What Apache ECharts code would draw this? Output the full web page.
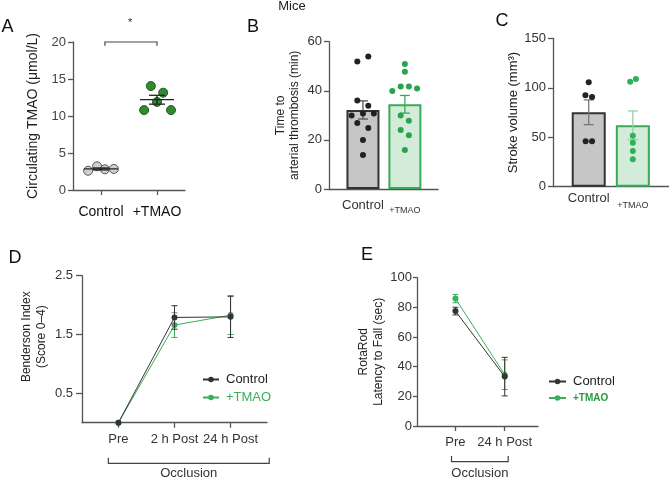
<!DOCTYPE html>
<html><head><meta charset="utf-8">
<script src="https://cdn.jsdelivr.net/npm/echarts@6/dist/echarts.min.js"></script>
<style>html,body{margin:0;padding:0;background:#fff}#c{width:669px;height:479px}</style>
</head><body><div id="c"></div>
<script>
// ---------- DATA ----------
// Panel A: circulating TMAO (µmol/L)
const aGroups = ['Control', '+TMAO'];
const aControl = [2.6, 3.2, 2.8, 2.85];
const aTMAO = [14.05, 13.15, 11.9, 10.8, 10.8];
const aMean = [2.85, 12.2];
const aSEM = [0.13, 0.6];
// Panel B: time to arterial thrombosis (min)
const bGroups = ['Control', '+TMAO'];
const bMean = [32.2, 34.5];
const bSEM = [3.7, 3.6];
const bControl = [51.9, 54.0, 36.0, 33.9, 29.9, 30.8, 30.8, 26.9, 24.8, 20.0, 13.8];
const bTMAO = [50.9, 47.8, 39.9, 41.8, 41.8, 40.9, 29.9, 27.8, 24.0, 21.9, 15.9];
// Panel C: stroke volume (mm3)
const cGroups = ['Control', '+TMAO'];
const cMean = [75.2, 62.1];
const cSEM = [12.5, 14.5];
const cControl = [105.6, 92.4, 90.7, 45.9, 45.9];
const cTMAO = [106.2, 108.9, 51.6, 44.5, 36.1, 27.7];
// Panel D: Benderson index
const dTimes = ['Pre', '2 h Post', '24 h Post'];
const dControl = [0, 1.79, 1.80];
const dControlSEM = [0, 0.2, 0.35];
const dTMAO = [0, 1.66, 1.83];
const dTMAOSEM = [0, 0.21, 0.33];
const dTicks = [0.5, 1.5, 2.5];
// Panel E: RotaRod latency (sec)
const eTimes = ['Pre', '24 h Post'];
const eControl = [77.5, 33.3];
const eControlSEM = [2.6, 13];
const eTMAO = [85.9, 34.6];
const eTMAOSEM = [2.8, 10];

// ---------- LAYOUT (jitter of dots, in category units) ----------
const aCtrlJit = [-0.23, -0.07, 0.07, 0.23];
const aTmaoJit = [-0.11, 0.11, 0, -0.23, 0.25];
const bCtrlJit = [-0.135, 0.127, -0.135, 0.127, -0.27, 0, 0.26, -0.135, 0.127, 0, 0];
const bTmaoJit = [0, 0, -0.3, -0.1, 0.095, 0.29, -0.1, 0.095, -0.1, 0.095, 0];
const cCtrlJit = [0, -0.075, 0.075, -0.07, 0.075];
const cTmaoJit = [-0.06, 0.07, 0, 0, 0, 0];

const FONT = '"Liberation Sans", Arial, sans-serif';
const GREEN = '#3aae5a';
const DARK = '#333';
const AX = '#555';

const jit = (vals, c, j) => vals.map((v, i) => [c + j[i], v]);

function errRender(colors, cap, lw, meanW) {
  return function (params, api) {
    const x = api.value(0), y = api.value(1), e = api.value(2);
    const col = colors[params.dataIndex % colors.length];
    const st = { stroke: col, lineWidth: lw };
    const ch = [];
    if (e > 0) {
      const p1 = api.coord([x, y + e]), p2 = api.coord([x, y - e]);
      const hw = cap / 2;
      ch.push({ type: 'line', shape: { x1: p1[0], y1: p1[1], x2: p2[0], y2: p2[1] }, style: st });
      ch.push({ type: 'line', shape: { x1: p1[0] - hw, y1: p1[1], x2: p1[0] + hw, y2: p1[1] }, style: st });
      ch.push({ type: 'line', shape: { x1: p2[0] - hw, y1: p2[1], x2: p2[0] + hw, y2: p2[1] }, style: st });
    }
    if (meanW) {
      const m = api.coord([x, y]);
      ch.push({ type: 'line', shape: { x1: m[0] - meanW / 2, y1: m[1], x2: m[0] + meanW / 2, y2: m[1] }, style: st });
    }
    return { type: 'group', children: ch };
  };
}

function yAx(g, min, max, interval, name, gap, extra) {
  return Object.assign({
    type: 'value', gridIndex: g, min: min, max: max, interval: interval,
    splitLine: { show: false },
    axisLine: { show: true, onZero: false, lineStyle: { color: AX, width: 1.3 } },
    axisTick: { show: true, length: 5, lineStyle: { color: AX, width: 1.3 } },
    axisLabel: { color: DARK, fontSize: 13, fontFamily: FONT, margin: 7 },
    name: name, nameLocation: 'middle', nameRotate: 90, nameGap: gap,
    nameTextStyle: { color: '#222', fontSize: 12, fontFamily: FONT, lineHeight: 14 }
  }, extra || {});
}

function xAx(g, min, max, vals, fmt, extra) {
  return Object.assign({
    type: 'value', gridIndex: g, min: min, max: max,
    splitLine: { show: false },
    axisLine: { show: true, onZero: false, lineStyle: { color: AX, width: 1.3 } },
    axisTick: { show: true, length: 5, customValues: vals, lineStyle: { color: AX, width: 1.3 } },
    axisLabel: { customValues: vals, formatter: fmt, color: DARK, fontSize: 13, fontFamily: FONT, margin: 10 }
  }, extra || {});
}

const chart = echarts.init(document.getElementById('c'), null, { renderer: 'canvas' });

const option = {
  animation: false,
  textStyle: { fontFamily: FONT },
  grid: [
    { left: 73, top: 42, width: 112, height: 148 },
    { left: 329, top: 41.7, width: 109, height: 147.3 },
    { left: 553, top: 38.3, width: 116, height: 148.4 },
    { left: 82, top: 275.7, width: 185, height: 147 },
    { left: 417, top: 277.7, width: 121, height: 148.3 }
  ],
  xAxis: [
    xAx(0, -0.5, 1.5, [0, 1], v => aGroups[Math.round(v)], {
      axisLabel: { customValues: [0, 1], formatter: v => aGroups[Math.round(v)], color: '#111', fontSize: 14, fontFamily: FONT, margin: 15 }
    }),
    xAx(1, -0.81, 1.79, [0, 1], null, {
      axisTick: { show: false },
      axisLabel: {
        customValues: [0, 1], formatter: v => Math.round(v) === 0 ? '{c|' + bGroups[0] + '}' : '{t|' + bGroups[1] + '}',
        margin: 10,
        rich: { c: { fontSize: 13, color: DARK, fontFamily: FONT }, t: { fontSize: 9, color: DARK, fontFamily: FONT, padding: [7, 0, 0, 0] } }
      }
    }),
    xAx(2, -0.81, 1.82, [0, 1], null, {
      axisTick: { show: false },
      axisLabel: {
        customValues: [0, 1], formatter: v => Math.round(v) === 0 ? '{c|' + cGroups[0] + '}' : '{t|' + cGroups[1] + '}',
        margin: 5,
        rich: { c: { fontSize: 13, color: DARK, fontFamily: FONT }, t: { fontSize: 9, color: DARK, fontFamily: FONT, padding: [9, 0, 0, 0] } }
      }
    }),
    xAx(3, -0.65, 2.65, [0, 1, 2], v => dTimes[Math.round(v)], {}),
    xAx(4, -0.78, 1.675, [0, 1], v => eTimes[Math.round(v)], {})
  ],
  yAxis: [
    yAx(0, 0, 20, 5, 'Circulating TMAO (\u03bcmol/L)', 33, {
      nameTextStyle: { color: '#222', fontSize: 14, fontFamily: FONT },
      axisLabel: { color: '#444', fontSize: 13, fontFamily: FONT, margin: 7 }
    }),
    yAx(1, 0, 60, 20, 'Time to\narterial thrombosis (min)', 27),
    yAx(2, 0, 150, 50, 'Stroke volume (mm\u00b3)', 29, {
      nameTextStyle: { color: '#222', fontSize: 13, fontFamily: FONT }
    }),
    yAx(3, 0, 2.5, null, 'Benderson Index\n(Score 0\u20134)', 33, {
      axisTick: { show: true, length: 6, customValues: dTicks, lineStyle: { color: AX, width: 1.3 } },
      axisLabel: { customValues: dTicks, color: DARK, fontSize: 13, fontFamily: FONT, margin: 9 },
      nameTextStyle: { color: '#222', fontSize: 12, fontFamily: FONT, lineHeight: 15, padding: [0, 0, 0, 25] }
    }),
    yAx(4, 0, 100, 20, 'RotaRod\nLatency to Fall (sec)', 25, {
      axisTick: { show: true, length: 4, lineStyle: { color: AX, width: 1.3 } },
      axisLabel: { color: DARK, fontSize: 13, fontFamily: FONT, margin: 5 },
      nameTextStyle: { color: '#222', fontSize: 12, fontFamily: FONT, lineHeight: 15 }
    })
  ],
  legend: [
    {
      left: 197, top: 368, orient: 'vertical', itemWidth: 16, itemHeight: 7, itemGap: 5,
      textStyle: { fontSize: 13, fontFamily: FONT, color: '#222', padding: [0, 0, 0, 2] },
      data: [{ name: 'Control' }, { name: '+TMAO', textStyle: { color: GREEN } }]
    },
    {
      left: 543, top: 370, orient: 'vertical', itemWidth: 17, itemHeight: 7, itemGap: 5,
      textStyle: { fontSize: 13, fontFamily: FONT, color: '#222', padding: [0, 0, 0, 2] },
      data: [{ name: 'Control' }, { name: '+TMAO', textStyle: { color: '#2a9a44', fontWeight: 'bold', fontSize: 10 } }]
    }
  ],
  series: [
    // ---- A ----
    { name: 'A Control', type: 'scatter', xAxisIndex: 0, yAxisIndex: 0, data: jit(aControl, 0, aCtrlJit),
      symbolSize: 9, itemStyle: { color: '#cfcfcf', borderColor: '#555', borderWidth: 1, opacity: 1 }, z: 3 },
    { name: 'A TMAO', type: 'scatter', xAxisIndex: 0, yAxisIndex: 0, data: jit(aTMAO, 1, aTmaoJit),
      symbolSize: 9, itemStyle: { color: '#2e8b2e', borderColor: '#1d5c1d', borderWidth: 1, opacity: 1 }, z: 3 },
    { name: 'A mean', type: 'custom', xAxisIndex: 0, yAxisIndex: 0,
      data: aMean.map((m, i) => [i, m, aSEM[i]]), renderItem: errRender(['#222', '#222'], 16, 1.3, 34), z: 4 },
    // ---- B ----
    { name: 'B bars', type: 'bar', xAxisIndex: 1, yAxisIndex: 1, barWidth: 33,
      data: [
        { value: [0, bMean[0]], itemStyle: { color: '#c6c6c6', borderColor: '#333', borderWidth: 2 } },
        { value: [1, bMean[1]], itemStyle: { color: '#d3ecd9', borderColor: '#38aa58', borderWidth: 2 } }
      ], z: 1 },
    { name: 'B err', type: 'custom', xAxisIndex: 1, yAxisIndex: 1,
      data: bMean.map((m, i) => [i, m, bSEM[i]]), renderItem: errRender(['#555', '#38aa58'], 10, 1.3), z: 2 },
    { name: 'B Control', type: 'scatter', xAxisIndex: 1, yAxisIndex: 1, data: jit(bControl, 0, bCtrlJit),
      symbolSize: 6, itemStyle: { color: '#222', opacity: 1 }, z: 3 },
    { name: 'B TMAO', type: 'scatter', xAxisIndex: 1, yAxisIndex: 1, data: jit(bTMAO, 1, bTmaoJit),
      symbolSize: 6, itemStyle: { color: '#2aa34f', opacity: 1 }, z: 3 },
    // ---- C ----
    { name: 'C bars', type: 'bar', xAxisIndex: 2, yAxisIndex: 2, barWidth: 34,
      data: [
        { value: [0, cMean[0]], itemStyle: { color: '#c6c6c6', borderColor: '#333', borderWidth: 2 } },
        { value: [1, cMean[1]], itemStyle: { color: '#d3ecd9', borderColor: '#38aa58', borderWidth: 2 } }
      ], z: 1 },
    { name: 'C err', type: 'custom', xAxisIndex: 2, yAxisIndex: 2,
      data: cMean.map((m, i) => [i, m, cSEM[i]]), renderItem: errRender(['#777', '#8fd4a2'], 10, 1.3), z: 2 },
    { name: 'C Control', type: 'scatter', xAxisIndex: 2, yAxisIndex: 2, data: jit(cControl, 0, cCtrlJit),
      symbolSize: 6, itemStyle: { color: '#222', opacity: 1 }, z: 3 },
    { name: 'C TMAO', type: 'scatter', xAxisIndex: 2, yAxisIndex: 2, data: jit(cTMAO, 1, cTmaoJit),
      symbolSize: 6, itemStyle: { color: '#2db25a', opacity: 1 }, z: 3 },
    // ---- D ----
    { name: 'D err TMAO', type: 'custom', xAxisIndex: 3, yAxisIndex: 3,
      data: dTMAO.map((m, i) => [i, m, dTMAOSEM[i]]), renderItem: errRender([GREEN], 6, 1), z: 2 },
    { name: '+TMAO', type: 'line', xAxisIndex: 3, yAxisIndex: 3, data: dTMAO.map((v, i) => [i, v]),
      color: GREEN, symbol: 'circle', symbolSize: 6, lineStyle: { width: 1, color: GREEN }, itemStyle: { color: GREEN }, z: 3 },
    { name: 'D err Control', type: 'custom', xAxisIndex: 3, yAxisIndex: 3,
      data: dControl.map((m, i) => [i, m, dControlSEM[i]]), renderItem: errRender([DARK], 6, 1), z: 4 },
    { name: 'Control', type: 'line', xAxisIndex: 3, yAxisIndex: 3, data: dControl.map((v, i) => [i, v]),
      color: DARK, symbol: 'circle', symbolSize: 6, lineStyle: { width: 1, color: DARK }, itemStyle: { color: DARK }, z: 5 },
    // ---- E ----
    { name: 'E err TMAO', type: 'custom', xAxisIndex: 4, yAxisIndex: 4,
      data: eTMAO.map((m, i) => [i, m, eTMAOSEM[i]]), renderItem: errRender([GREEN], 6, 1), z: 2 },
    { name: '+TMAO', type: 'line', xAxisIndex: 4, yAxisIndex: 4, data: eTMAO.map((v, i) => [i, v]),
      color: GREEN, symbol: 'circle', symbolSize: 6, lineStyle: { width: 1, color: GREEN }, itemStyle: { color: GREEN }, z: 3 },
    { name: 'E err Control', type: 'custom', xAxisIndex: 4, yAxisIndex: 4,
      data: eControl.map((m, i) => [i, m, eControlSEM[i]]), renderItem: errRender([DARK], 6, 1), z: 4 },
    { name: 'Control', type: 'line', xAxisIndex: 4, yAxisIndex: 4, data: eControl.map((v, i) => [i, v]),
      color: DARK, symbol: 'circle', symbolSize: 6, lineStyle: { width: 1, color: DARK }, itemStyle: { color: DARK }, z: 5 }
  ]
};

chart.setOption(option);

// ---------- annotations ----------
const px = (g, x, y) => chart.convertToPixel({ gridIndex: g }, [x, y]);
const lineSt = { stroke: '#444', lineWidth: 1.2, fill: null };
function txt(t, x, y, size, extra) {
  return { type: 'text', x: x, y: y, silent: true,
    style: Object.assign({ text: t, fill: '#111', font: size + 'px ' + FONT, textAlign: 'center', textVerticalAlign: 'middle', align: 'center', verticalAlign: 'middle' }, extra || {}) };
}
const g = [];
// significance bracket in A
const s1 = px(0, 0.07, 19.5), s2 = px(0, 0.07, 20), s3 = px(0, 1, 20), s4 = px(0, 1, 19.5);
g.push({ type: 'polyline', shape: { points: [s1, s2, s3, s4] }, style: lineSt, silent: true });
const ast = px(0, 0.52, 22.6);
g.push(txt('*', ast[0], ast[1], 11, { fill: '#333' }));
// Occlusion brackets
function occl(gi, xl, xr, dLine, dTick, dText) {
  const base = px(gi, 0, 0)[1];
  const L = px(gi, xl, 0)[0], R = px(gi, xr, 0)[0];
  g.push({ type: 'polyline', shape: { points: [[L, base + dTick], [L, base + dLine], [R, base + dLine], [R, base + dTick]] }, style: lineSt, silent: true });
  g.push(txt('Occlusion', (L + R) / 2, base + dText, 13, { fill: '#333' }));
}
occl(3, -0.18, 2.69, 40.6, 35, 50.5);
occl(4, -0.08, 1.07, 35.7, 30, 47.5);
// Panel letters and title
g.push(txt('A', 7.5, 27.5, 18, { fill: '#111' }));
g.push(txt('B', 253, 27.5, 18, { fill: '#111' }));
g.push(txt('C', 502, 21, 18, { fill: '#111' }));
g.push(txt('D', 15, 258.5, 18, { fill: '#111' }));
g.push(txt('E', 367, 255.5, 18, { fill: '#111' }));
g.push(txt('Mice', 292, 6, 13, { fill: '#222' }));
chart.setOption({ graphic: g });
</script>
</body></html>
